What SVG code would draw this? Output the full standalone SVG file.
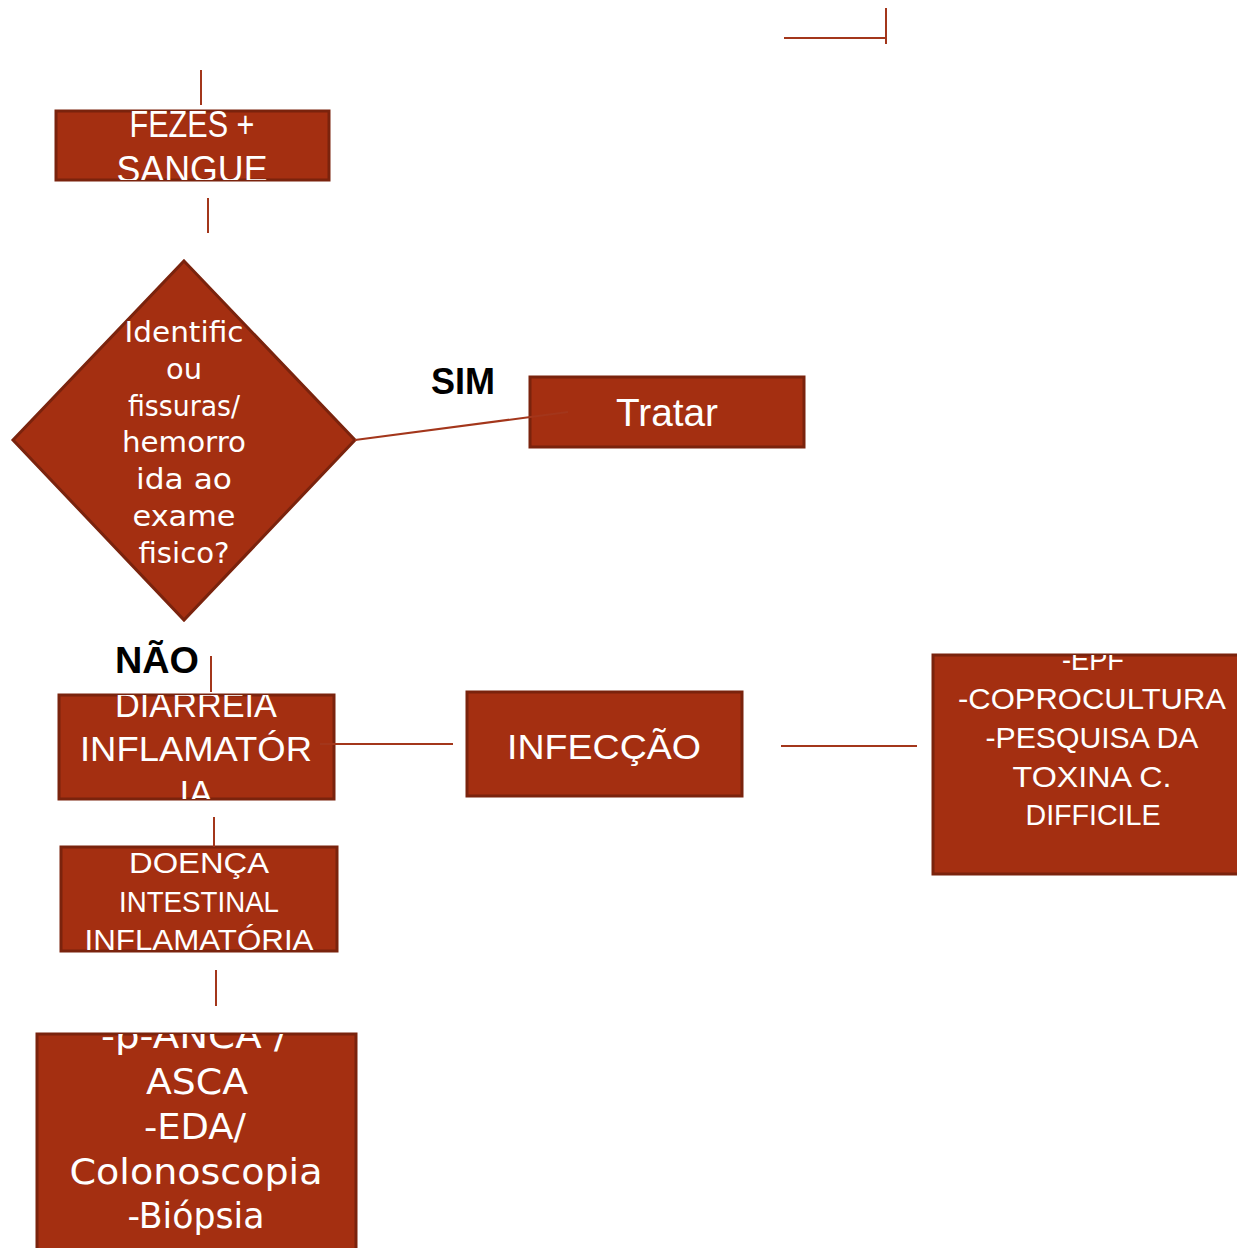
<svg xmlns="http://www.w3.org/2000/svg" width="1237" height="1248" viewBox="0 0 1237 1248">
<style>
.box{fill:#A42F11;stroke:#7A230D;stroke-width:3}
.t{fill:#FFFFFF;font-family:"Liberation Sans",Arial,sans-serif;text-anchor:middle}
.d{font-family:"DejaVu Sans","Liberation Sans",sans-serif}
.lbl{fill:#000000;font-family:"Liberation Sans",Arial,sans-serif;font-weight:bold}
.c{stroke:#A3361B;stroke-width:2;fill:none}
</style>
<defs>
<clipPath id="cpFezes"><rect x="56" y="111" width="273" height="69"/></clipPath>
<clipPath id="cpDiar"><rect x="59" y="695" width="275" height="104"/></clipPath>
<clipPath id="cpDoenca"><rect x="61" y="847" width="276" height="104"/></clipPath>
<clipPath id="cpBx"><rect x="37" y="1034" width="319" height="214"/></clipPath>
<clipPath id="cpEpf"><rect x="933" y="655" width="304" height="219"/></clipPath>
</defs>
<rect width="1237" height="1248" fill="#FFFFFF"/>
<g id="node-fezes">
<rect class="box" x="56" y="111" width="273" height="69"/>
<g clip-path="url(#cpFezes)">
<text class="t" x="192" y="137" font-size="36" textLength="125" lengthAdjust="spacingAndGlyphs">FEZES +</text>
<text class="t" x="192" y="182" font-size="36" textLength="151" lengthAdjust="spacingAndGlyphs">SANGUE</text>
</g>
</g>
<g id="node-decisao">
<polygon class="box" points="184,261 355,440 184,620 13,440" stroke-width="2"/>
<g font-size="28.5" class="d">
<text class="t d" x="184" y="342" textLength="119" lengthAdjust="spacingAndGlyphs">Identific</text>
<text class="t d" x="184" y="379" textLength="36" lengthAdjust="spacingAndGlyphs">ou</text>
<text class="t d" x="184" y="416" textLength="112" lengthAdjust="spacingAndGlyphs">fissuras/</text>
<text class="t d" x="184" y="452" textLength="124" lengthAdjust="spacingAndGlyphs">hemorro</text>
<text class="t d" x="184" y="489" textLength="96" lengthAdjust="spacingAndGlyphs">ida ao</text>
<text class="t d" x="184" y="526" textLength="103" lengthAdjust="spacingAndGlyphs">exame</text>
<text class="t d" x="184" y="563" textLength="91" lengthAdjust="spacingAndGlyphs">fisico?</text>
</g>
</g>
<g id="label-sim">
<text class="lbl" x="431" y="394" font-size="36">SIM</text>
</g>
<g id="node-tratar">
<rect class="box" x="530" y="377" width="274" height="70"/>
<text class="t" x="667" y="426" font-size="38" textLength="102" lengthAdjust="spacingAndGlyphs">Tratar</text>
</g>
<g id="label-nao">
<text class="lbl" x="115" y="673" font-size="36" textLength="84" lengthAdjust="spacingAndGlyphs">NÃO</text>
</g>
<g id="node-diarreia">
<rect class="box" x="59" y="695" width="275" height="104"/>
<g clip-path="url(#cpDiar)">
<text class="t" x="196" y="717" font-size="35" textLength="162" lengthAdjust="spacingAndGlyphs">DIARREIA</text>
<text class="t" x="196" y="761" font-size="35" textLength="232" lengthAdjust="spacingAndGlyphs">INFLAMATÓR</text>
<text class="t" x="196" y="805" font-size="35">IA</text>
</g>
</g>
<g id="node-infeccao">
<rect class="box" x="467" y="692" width="275" height="104"/>
<text class="t" x="604" y="759" font-size="35" textLength="194" lengthAdjust="spacingAndGlyphs">INFECÇÃO</text>
</g>
<g id="node-exames-infeccao">
<rect class="box" x="933" y="655" width="310" height="219"/>
<g clip-path="url(#cpEpf)" font-size="30">
<text class="t" x="1093" y="670" textLength="62" lengthAdjust="spacingAndGlyphs">-EPF</text>
<text class="t" x="1092" y="709" textLength="268" lengthAdjust="spacingAndGlyphs">-COPROCULTURA</text>
<text class="t" x="1092" y="748" textLength="213" lengthAdjust="spacingAndGlyphs">-PESQUISA DA</text>
<text class="t" x="1092" y="787" textLength="159" lengthAdjust="spacingAndGlyphs">TOXINA C.</text>
<text class="t" x="1093" y="825" textLength="135" lengthAdjust="spacingAndGlyphs">DIFFICILE</text>
</g>
</g>
<g id="node-doenca">
<rect class="box" x="61" y="847" width="276" height="104"/>
<g clip-path="url(#cpDoenca)" font-size="30">
<text class="t" x="199" y="873" textLength="140" lengthAdjust="spacingAndGlyphs">DOENÇA</text>
<text class="t" x="199" y="912" textLength="160" lengthAdjust="spacingAndGlyphs">INTESTINAL</text>
<text class="t" x="199" y="950" textLength="229" lengthAdjust="spacingAndGlyphs">INFLAMATÓRIA</text>
</g>
</g>
<g id="node-exames-dii">
<rect class="box" x="37" y="1034" width="319" height="220"/>
<g clip-path="url(#cpBx)" font-size="36">
<text class="t d" x="194" y="1048" textLength="186" lengthAdjust="spacingAndGlyphs">-p-ANCA /</text>
<text class="t d" x="197" y="1094" textLength="102" lengthAdjust="spacingAndGlyphs">ASCA</text>
<text class="t d" x="195" y="1139" textLength="102" lengthAdjust="spacingAndGlyphs">-EDA/</text>
<text class="t d" x="196" y="1184" textLength="253" lengthAdjust="spacingAndGlyphs">Colonoscopia</text>
<text class="t d" x="196" y="1228" textLength="137" lengthAdjust="spacingAndGlyphs">-Biópsia</text>
</g>
</g>
<g id="connectors">
<line class="c" x1="784" y1="38" x2="885" y2="38"/>
<line class="c" x1="886" y1="8" x2="886" y2="44"/>
<line class="c" x1="201" y1="70" x2="201" y2="105"/>
<line class="c" x1="208" y1="198" x2="208" y2="233"/>
<line class="c" x1="355" y1="440" x2="568" y2="412"/>
<line class="c" x1="211" y1="656" x2="211" y2="692"/>
<line class="c" x1="320" y1="744" x2="453" y2="744"/>
<line class="c" x1="214" y1="817" x2="214" y2="847"/>
<line class="c" x1="216" y1="970" x2="216" y2="1006"/>
<line class="c" x1="781" y1="746" x2="917" y2="746"/>
</g>
</svg>
